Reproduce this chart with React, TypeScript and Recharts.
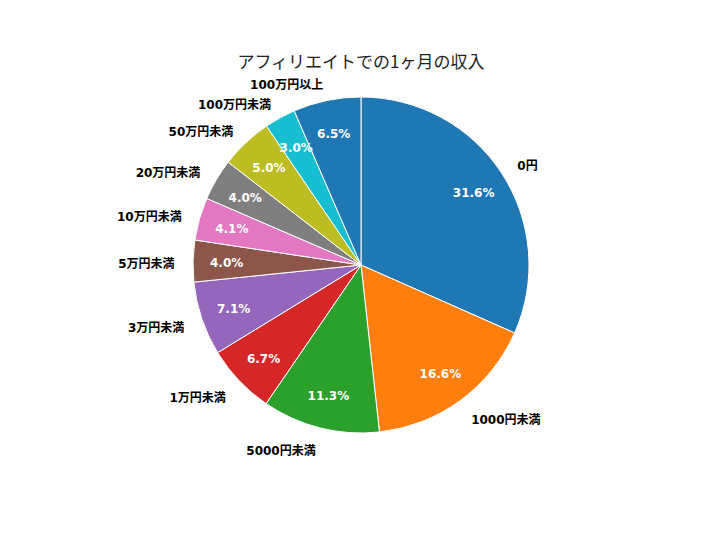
import React from "react";
import { PieChart, Pie, Cell } from "recharts";

const categories = ["0円", "1000円未満", "5000円未満", "1万円未満", "3万円未満", "5万円未満", "10万円未満", "20万円未満", "50万円未満", "100万円未満", "100万円以上"];
const shares = [31.6, 16.6, 11.3, 6.7, 7.1, 4.0, 4.1, 4.0, 5.0, 3.0, 6.5];
const colors = ["#1f77b4", "#ff7f0e", "#2ca02c", "#d62728", "#9467bd", "#8c564b", "#e377c2", "#7f7f7f", "#bcbd22", "#17becf", "#1f77b4"];
const title = "アフィリエイトでの1ヶ月の収入";

const data = categories.map((name, i) => ({ name, value: shares[i] }));

const FONT = "'Noto Sans CJK JP', 'Noto Sans', sans-serif";
const LABEL_FONT = "'DejaVu Sans', 'Noto Sans CJK JP', sans-serif";
const RAD = Math.PI / 180;

const renderLabel = (props: any) => {
  const { cx, cy, midAngle, outerRadius, index, value } = props;
  const cos = Math.cos(-midAngle * RAD);
  const sin = Math.sin(-midAngle * RAD);
  const lr = outerRadius * 1.11;
  const pr = outerRadius * 0.8;
  const lx = cx + lr * cos;
  const ly = cy + lr * sin + 3 + 2 * Math.max(0, sin);
  const px = cx + pr * cos;
  const py = cy + pr * sin + 1;
  return (
    <g key={`lbl-${index}`}>
      <text
        x={lx}
        y={ly}
        textAnchor={cos >= 0 ? "start" : "end"}
        dominantBaseline="central"
        fontFamily={LABEL_FONT}
        fontSize={12}
        fontWeight="bold"
        fill="#000"
      >
        {categories[index]}
      </text>
      <text
        x={px}
        y={py}
        textAnchor="middle"
        dominantBaseline="central"
        fontFamily={LABEL_FONT}
        fontSize={12}
        fontWeight="bold"
        fill="#fff"
      >
        {`${Number(value).toFixed(1)}%`}
      </text>
    </g>
  );
};

export default function App() {
  return (
    <div style={{ position: "absolute", left: 0, top: 0, width: 702, height: 533, background: "#fff" }}>
      <div
        style={{
          position: "absolute",
          left: 0,
          top: 48,
          width: 722,
          textAlign: "center",
          fontFamily: FONT,
          fontSize: 17,
          color: "#222",
        }}
      >
        {title}
      </div>
      <PieChart
        width={702}
        height={533}
        margin={{ top: 0, right: 0, bottom: 0, left: 0 }}
        style={{ position: "absolute", left: 0, top: 0 }}
      >
        <Pie
          data={data}
          dataKey="value"
          nameKey="name"
          cx={361}
          cy={265}
          outerRadius={168}
          startAngle={90}
          endAngle={-270}
          stroke="#fff"
          strokeWidth={1}
          label={renderLabel}
          labelLine={false}
          isAnimationActive={false}
        >
          {data.map((d, i) => (
            <Cell key={d.name} fill={colors[i]} />
          ))}
        </Pie>
      </PieChart>
    </div>
  );
}
